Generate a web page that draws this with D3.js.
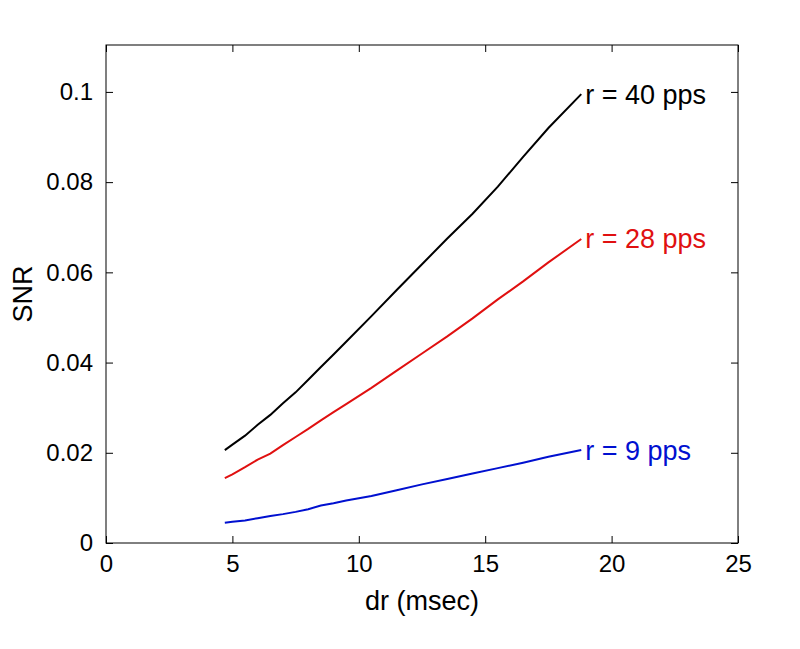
<!DOCTYPE html>
<html><head><meta charset="utf-8">
<script src="https://cdn.jsdelivr.net/npm/d3@7/dist/d3.min.js"></script>
<style>body{margin:0;background:#fff}svg{display:block}text{font-family:"Liberation Sans",Arial,sans-serif}</style>
</head><body>
<svg id="c" width="800" height="649"></svg>
<script>
const dr = [4.7, 5.0, 5.5, 6.0, 6.5, 7.0, 7.5, 8.0, 8.5, 9.0, 9.5, 10.5, 11.5, 12.5, 13.5, 14.5, 15.5, 16.5, 17.5, 18.8];
const snr40 = [0.0206, 0.0218, 0.0238, 0.0262, 0.0284, 0.0310, 0.0334, 0.0362, 0.0390, 0.0418, 0.0446, 0.0503, 0.0561, 0.0618, 0.0675, 0.0730, 0.0790, 0.0856, 0.0920, 0.0995];
const snr28 = [0.0144, 0.0152, 0.0168, 0.0185, 0.0198, 0.0217, 0.0235, 0.0253, 0.0272, 0.0290, 0.0308, 0.0344, 0.0382, 0.0420, 0.0458, 0.0498, 0.0540, 0.0580, 0.0622, 0.0674];
const snr9 = [0.0045, 0.0047, 0.0050, 0.0055, 0.0060, 0.0064, 0.0069, 0.0075, 0.0083, 0.0088, 0.0094, 0.0104, 0.0117, 0.0130, 0.0142, 0.0154, 0.0166, 0.0178, 0.0191, 0.0206];
const seriesNames = ["r = 40 pps", "r = 28 pps", "r = 9 pps"];
const seriesColors = ["#000000", "#e01010", "#0010d0"];
const xTicks = [0, 5, 10, 15, 20, 25];
const yTicks = [0, 0.02, 0.04, 0.06, 0.08, 0.1];
const yTickLabels = ["0", "0.02", "0.04", "0.06", "0.08", "0.1"];

const svg = d3.select("#c");
const L = 106, R = 738, T = 45, B = 543;
const x = d3.scaleLinear().domain([0, 25]).range([L, R]);
const y = d3.scaleLinear().domain([0, 0.1104]).range([B, T]);

svg.append("rect").attr("x", L).attr("y", T).attr("width", R - L).attr("height", B - T)
  .attr("fill", "none").attr("stroke", "#000").attr("stroke-width", 1);

const tl = 7;
const gx = svg.append("g").attr("transform", `translate(0,${B})`)
  .call(d3.axisBottom(x).tickValues(xTicks).tickSizeInner(-tl).tickSizeOuter(0).tickPadding(12));
const gxt = svg.append("g").attr("transform", `translate(0,${T})`)
  .call(d3.axisTop(x).tickValues(xTicks).tickSizeInner(-tl).tickSizeOuter(0).tickFormat(""));
const gy = svg.append("g").attr("transform", `translate(${L},0)`)
  .call(d3.axisLeft(y).tickValues(yTicks).tickSizeInner(-tl).tickSizeOuter(0).tickPadding(13)
    .tickFormat((d, i) => yTickLabels[i]));
const gyr = svg.append("g").attr("transform", `translate(${R},0)`)
  .call(d3.axisRight(y).tickValues(yTicks).tickSizeInner(-tl).tickSizeOuter(0).tickFormat(""));
[gx, gxt, gy, gyr].forEach(g => {
  g.select(".domain").remove();
  g.selectAll("line").attr("stroke", "#000");
  g.selectAll("text").attr("font-size", 24).attr("fill", "#000")
    .style("font-family", '"Liberation Sans",Arial,sans-serif');
});
gx.selectAll("text").attr("dy", "0.71em");

svg.append("text").attr("x", 422).attr("y", 610).attr("text-anchor", "middle")
  .attr("font-size", 27).text("dr (msec)");
svg.append("text").attr("transform", `translate(32,${(T + B) / 2}) rotate(-90)`)
  .attr("text-anchor", "middle").attr("font-size", 27).text("SNR");

const allSeries = [snr40, snr28, snr9];
const line = d3.line().x(d => x(d[0])).y(d => y(d[1]));
allSeries.forEach((vals, i) => {
  const pts = dr.map((d, j) => [d, vals[j]]);
  svg.append("path").attr("d", line(pts)).attr("fill", "none")
    .attr("stroke", seriesColors[i]).attr("stroke-width", 2);
  svg.append("text").attr("x", x(dr[dr.length - 1]) + 4).attr("y", y(vals[vals.length - 1]))
    .attr("dy", "0.35em").attr("font-size", 27).attr("fill", seriesColors[i]).text(seriesNames[i]);
});
</script>
</body></html>
